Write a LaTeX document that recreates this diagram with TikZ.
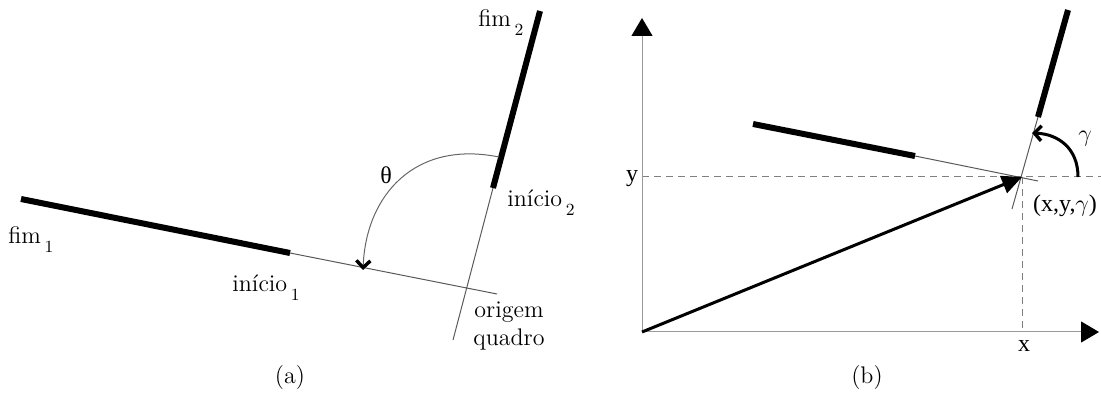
\documentclass[tikz,border=0pt]{standalone}
\usepackage{fontspec}
\newfontfamily\tms{Liberation Serif}
\usetikzlibrary{arrows.meta}
\newcommand{\lowsub}[1]{\hspace{1.8pt}\raisebox{-4.5pt}{\fontsize{8.5}{9}\selectfont #1}}
\begin{document}
\begin{tikzpicture}[x=0.5pt,y=-0.5pt,
  thickseg/.style={line width=3pt, line cap=butt},
  thinseg/.style={line width=0.5pt, draw=black!65},
  axisline/.style={line width=0.5pt, draw=black!40, -{Triangle[length=9pt,width=10.5pt,color=black,fill=black]}},
  guide/.style={draw=black!50, line width=0.5pt, dash pattern=on 3.5pt off 2.5pt},
  chev/.style={-{Straight Barb[length=3.5pt,width=7pt,line width=1.7pt,color=black]}},
  lbl/.style={font=\fontsize{12}{14}\selectfont, inner sep=0pt},
  tlbl/.style={font=\tms\fontsize{12}{14}\selectfont, inner sep=0pt}]
\useasboundingbox (0,0) rectangle (1101,394);
% ---------- (a) ----------
\coordinate (f1) at (21,199);
\coordinate (s1) at (290,253);
\coordinate (e1) at (497,294);
\coordinate (f2) at (540,11);
\coordinate (s2) at (493,188);
\coordinate (e2) at (453,340);
\coordinate (ta) at (499,157);
\coordinate (tb) at (363,270);
\draw[thinseg] (s1) -- (e1);
\draw[thinseg] (s2) -- (e2);
\draw[thickseg] (f1) -- (s1);
\draw[thickseg] (s2) -- (f2);
\draw[line width=0.5pt, draw=black!60, chev] (ta) .. controls (415,140) and (366,195) .. (tb);
\node[lbl, anchor=base west] (lf1) at (8,244) {fim\lowsub{1}};
\node[lbl, anchor=base west] (ls1) at (232,292) {início\lowsub{1}};
\node[lbl, anchor=base west] (lf2) at (478,27) {fim\lowsub{2}};
\node[lbl, anchor=base west] (ls2) at (507,207) {início\lowsub{2}};
\node[tlbl] (lth) at (386,175) {θ};
\node[lbl, align=center, anchor=north] (lor) at (509,301) {origem\\quadro};
\node[lbl] (capa) at (290,378) {(a)};
% ---------- (b) ----------
\coordinate (O) at (642,332);
\coordinate (Yt) at (642,18);
\coordinate (Xt) at (1099,332);
\coordinate (P) at (1022,177);
\coordinate (Py) at (642,177);
\coordinate (Pr) at (1101,177);
\coordinate (Px) at (1022,332);
\coordinate (b1f) at (753,124);
\coordinate (b1s) at (915,156);
\coordinate (b1e) at (1038,181);
\coordinate (b2f) at (1068,10);
\coordinate (b2s) at (1038,117);
\coordinate (b2e) at (1012,209);
\coordinate (g0) at (1078,177);
\coordinate (g1) at (1032,133);
\draw[guide] (Py) -- (Pr);
\draw[guide] (P) -- (Px);
\draw[axisline] (O) -- (Yt);
\draw[axisline] (O) -- (Xt);
\draw[thinseg] (b1s) -- (b1e);
\draw[thinseg] (b2s) -- (b2e);
\draw[thickseg] (b1f) -- (b1s);
\draw[thickseg] (b2s) -- (b2f);
\draw[line width=1.5pt, -{Triangle[length=10pt,width=9pt]}] (O) -- (P);
\draw[line width=1.5pt, -{Straight Barb[length=3.5pt,width=7.5pt,line width=1.7pt]}] (g0) .. controls (1078,148) and (1058,134) .. (g1);
\node[tlbl] (ly) at (632,179) {y};
\node[tlbl] (lx) at (1024,346) {x};
\node[tlbl] (lg) at (1085,139) {$\gamma$};
\node[tlbl] (lp) at (1065,206) {(x,y,$\gamma$)};
\node[lbl] (capb) at (867,378) {(b)};
\end{tikzpicture}
\end{document}
